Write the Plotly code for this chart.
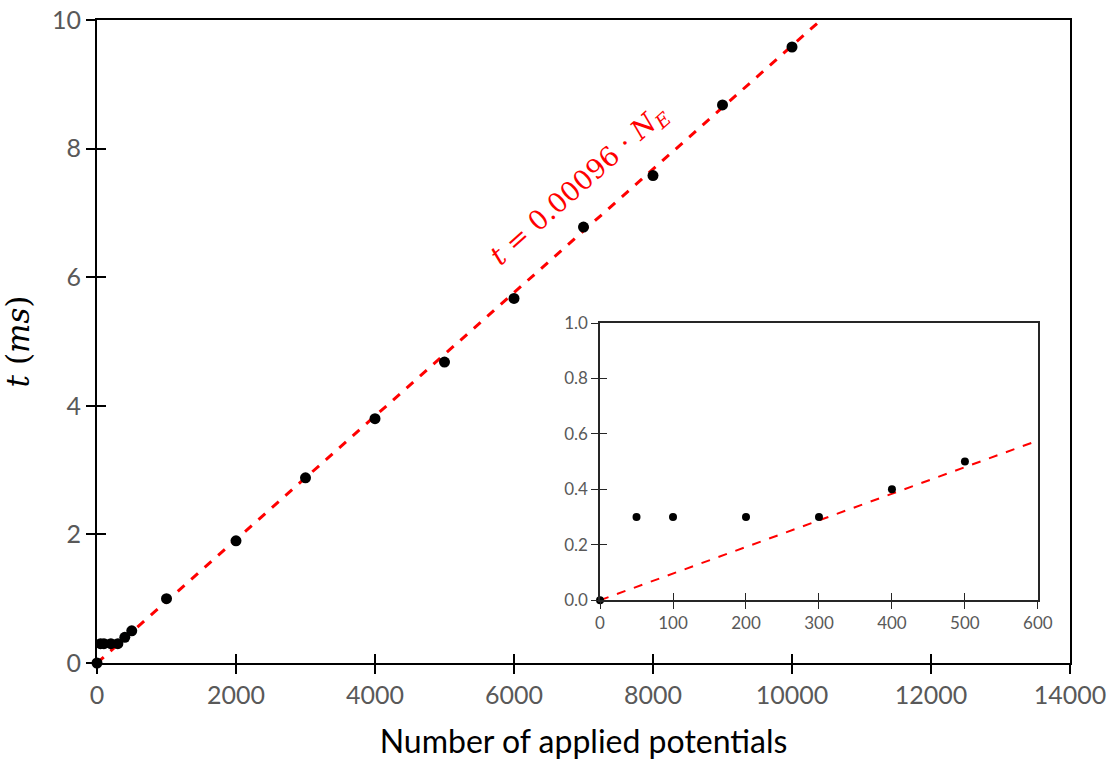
import plotly.graph_objects as go

# data
n_main = [0, 50, 100, 200, 300, 400, 500, 1000, 2000, 3000, 4000, 5000, 6000, 7000, 8000, 9000, 10000]
t_main = [0, 0.3, 0.3, 0.3, 0.3, 0.4, 0.5, 1.0, 1.9, 2.88, 3.8, 4.68, 5.67, 6.78, 7.58, 8.68, 9.58]
n_inset = [0, 50, 100, 200, 300, 400, 500]
t_inset = [0, 0.3, 0.3, 0.3, 0.3, 0.4, 0.5]
slope = 0.00096
fit_main_x = [0, 14000]
fit_inset_x = [0, 600]

main_xticks = [0, 2000, 4000, 6000, 8000, 10000, 12000, 14000]
main_yticks = [0, 2, 4, 6, 8, 10]
inset_xticks = [0, 100, 200, 300, 400, 500, 600]
inset_yticks = [0.0, 0.2, 0.4, 0.6, 0.8, 1.0]

TICKFONT = dict(family="Lato, Carlito, sans-serif", size=25, color="#595959")
INSETFONT = dict(family="Lato, Carlito, sans-serif", size=17, color="#595959")

fig = go.Figure()

fig.add_trace(go.Scatter(x=fit_main_x, y=[slope * v for v in fit_main_x], mode="lines",
                         line=dict(color="#FF0000", width=3, dash="dash"), xaxis="x", yaxis="y",
                         showlegend=False, hoverinfo="skip"))
fig.add_trace(go.Scatter(x=n_main, y=t_main, mode="markers",
                         marker=dict(color="black", size=11), xaxis="x", yaxis="y",
                         cliponaxis=False, showlegend=False))
fig.add_trace(go.Scatter(x=fit_inset_x, y=[slope * v for v in fit_inset_x], mode="lines",
                         line=dict(color="#FF0000", width=2, dash="dash"), xaxis="x2", yaxis="y2",
                         showlegend=False, hoverinfo="skip"))
fig.add_trace(go.Scatter(x=n_inset, y=t_inset, mode="markers",
                         marker=dict(color="black", size=8), xaxis="x2", yaxis="y2",
                         cliponaxis=False, showlegend=False))

main_x = dict(range=[0, 14000], tickvals=main_xticks, showgrid=False, zeroline=False,
              showline=True, linecolor="black", linewidth=2, tickformat="d")
main_y = dict(range=[0, 10], tickvals=main_yticks, showgrid=False, zeroline=False,
              showline=True, linecolor="black", linewidth=2)
inset_x = dict(range=[0, 600], tickvals=inset_xticks, showgrid=False, zeroline=False,
               showline=True, linecolor="#262626", linewidth=1.5)
inset_y = dict(range=[0, 1], tickvals=inset_yticks, showgrid=False, zeroline=False,
               showline=True, linecolor="#262626", linewidth=1.5)

ix = [0.517, 0.967]
iy = [0.0977, 0.5287]

fig.update_layout(
    width=1118, height=762,
    margin=dict(l=97, r=48, t=20, b=99, autoexpand=False),
    paper_bgcolor="white", plot_bgcolor="white",
    xaxis=dict(**main_x, domain=[0, 1], anchor="y", mirror=True, ticks="outside", ticklen=9,
               tickwidth=1.5, tickcolor="black", tickfont=TICKFONT, automargin=False,
               ticklabeloverflow="allow",
               title=dict(text="Number of applied potentials",
                          font=dict(family="Lato, Carlito, sans-serif", size=32, color="black"),
                          standoff=23)),
    yaxis=dict(**main_y, domain=[0, 1], anchor="x", mirror=True, ticks="outside", ticklen=9,
               tickwidth=1.5, tickcolor="black", tickfont=TICKFONT, automargin=False,
               ticklabeloverflow="allow",
               title=dict(text="<i>t</i> (<i>ms</i>)",
                          font=dict(family="DejaVu Serif, serif", size=31, color="black"),
                          standoff=18)),
    xaxis3=dict(**main_x, domain=[0, 1], anchor="y", overlaying="x", ticks="inside", ticklen=9,
                tickwidth=1.5, tickcolor="black", showticklabels=False),
    yaxis3=dict(**main_y, domain=[0, 1], anchor="x", overlaying="y", ticks="inside", ticklen=9,
                tickwidth=1.5, tickcolor="black", showticklabels=False),
    xaxis2=dict(**inset_x, domain=ix, anchor="y2", mirror=True, ticks="outside", ticklen=7,
                tickwidth=1, tickcolor="#262626", tickfont=INSETFONT),
    yaxis2=dict(**inset_y, domain=iy, anchor="x2", mirror=True, ticks="outside", ticklen=7,
                tickwidth=1, tickcolor="#262626", tickfont=INSETFONT, tickformat=".1f"),
    xaxis4=dict(**inset_x, domain=ix, anchor="y2", overlaying="x2", ticks="inside", ticklen=7,
                tickwidth=1, tickcolor="#262626", showticklabels=False),
    yaxis4=dict(**inset_y, domain=iy, anchor="x2", overlaying="y2", ticks="inside", ticklen=7,
                tickwidth=1, tickcolor="#262626", showticklabels=False),
    annotations=[dict(x=6950, y=7.42, xref="x", yref="y", showarrow=False, textangle=-41.7,
                      text="<i>t</i> = 0.00096 · <i>N</i><sub><i>E</i></sub>",
                      font=dict(family="DejaVu Serif, serif", size=27, color="#FF0000"))],
)

# dummy traces to activate overlay axes
fig.add_trace(go.Scatter(x=[None], y=[None], xaxis="x3", yaxis="y3", showlegend=False))
fig.add_trace(go.Scatter(x=[None], y=[None], xaxis="x4", yaxis="y4", showlegend=False))

fig.write_html("out.html", config={"displayModeBar": False},
               post_script="document.body.style.margin='0';document.body.style.overflow='hidden';")
